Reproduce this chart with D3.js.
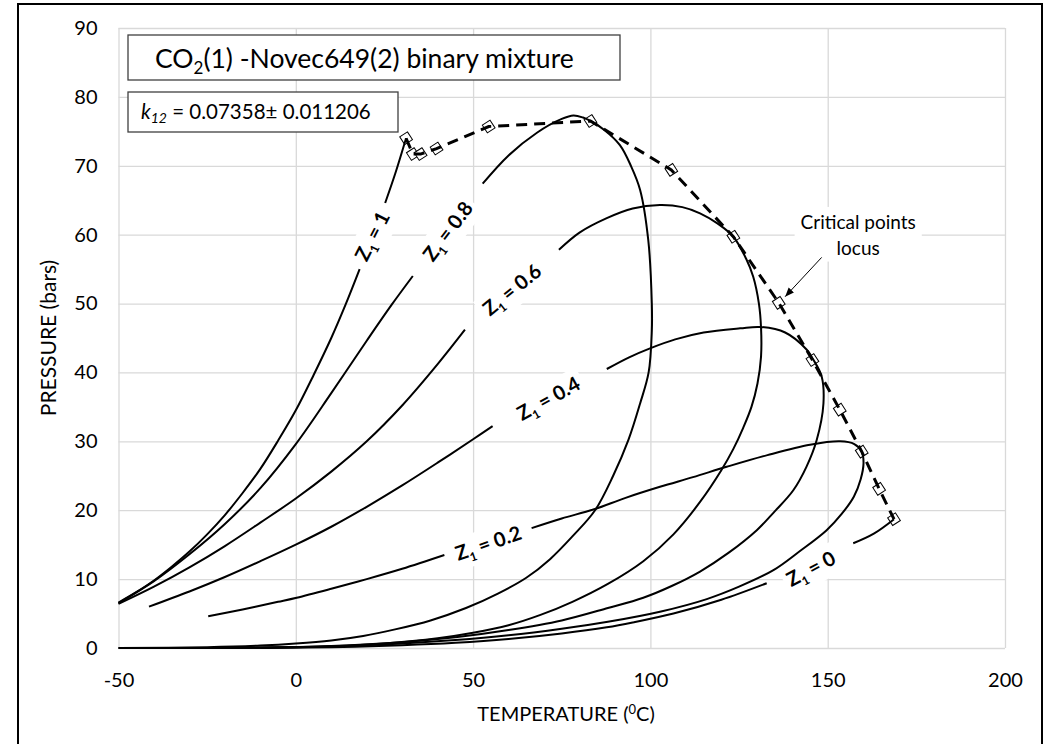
<!DOCTYPE html>
<html lang="en">
<head>
<meta charset="utf-8">
<title>CO2(1)-Novec649(2) phase envelopes</title>
<script src="https://d3js.org/d3.v7.min.js"></script>
<style>
  body { margin: 0; background: #fff; }
  svg text { font-family: Lato, "Open Sans", sans-serif; fill: #000; }
</style>
</head>
<body>
<script>
// ---- data: phase envelopes, T in degC, P in bar ----
// each composition is split where its inline label sits
var compositions = ["1", "0.8", "0.6", "0.4", "0.2", "0"];

var env10a = [[-50,6.6],[-45,8.1],[-40,9.8],[-35,11.8],[-30,14.0],[-25,16.5],[-20,19.3],[-15,22.5],[-10,26.0],[-5,30.1],[0,34.5],[5,39.6],[10,45.0],[14,49.8],[18,55.0]];
var env10b = [[25.2,64.6],[28,68.8],[31.1,74.0]];

var env08a = [[-50,6.5],[-40,9.7],[-30,13.6],[-20,18.0],[-10,23.2],[0,29.6],[10,37.0],[20,44.6],[27,49.8],[33,54.0]];
var env08b = [[52.7,67.4],[60,71.5],[68,74.8],[75,76.8],[78.3,77.3],[81,77.0],[83.1,76.5],[87,75.2],[91.4,73.0],[94.5,70.0],[97.1,66.5],[99.4,59.2],[100.4,50.0],[100.4,46.0],[99.5,40.0],[97.1,35.5],[93.8,30.2],[89.5,25.0],[84.4,20.0],[78,16.2],[71.7,12.9],[65,10.2],[57,7.9],[48,5.8],[38,4.0],[28,2.7],[19,1.75],[10,1.1],[0,0.65],[-10,0.35],[-25,0.12],[-50,0]];

var env06a = [[-50,6.4],[-40,8.9],[-30,11.7],[-20,14.8],[-10,18.2],[0,21.7],[10,25.6],[20,30.0],[30,35.2],[40,41.2],[47.7,46.2]];
var env06b = [[74.2,57.8],[80,60.3],[87.7,62.4],[95,63.8],[102.7,64.3],[109,64.0],[114,63.1],[119,61.6],[123.4,59.7],[127,56.5],[129,53.9],[130.6,50.0],[131.2,46.5],[131.2,42.3],[130.2,38.4],[128.5,35.0],[126.2,32.0],[123.4,28.9],[120,25.8],[114,21.2],[106.5,16.5],[98,12.6],[88,9.3],[78,6.7],[69,4.8],[60,3.3],[50,2.2],[40,1.4],[25,0.65],[10,0.25],[-10,0.05],[-30,0],[-50,0]];

var env04a = [[-41.4,6.0],[-30,8.2],[-20,10.3],[-10,12.6],[0,15.0],[10,17.6],[20,20.5],[30,23.6],[40,26.9],[50,30.3],[55.5,32.2]];
var env04b = [[87.7,40.5],[94,42.2],[99.9,43.5],[107,44.8],[115,45.8],[125.3,46.4],[131,46.6],[138,45.8],[144.1,43.3],[145.9,41.9],[148.3,39.4],[148.8,35.5],[146.9,30.2],[144,26.3],[140.3,22.9],[135,19.8],[130,17.1],[122,13.8],[114,11.1],[106,9.0],[98,7.3],[88,5.8],[75,4.0],[60,2.6],[45,1.55],[30,0.85],[10,0.3],[-10,0.06],[-41.4,0]];

var env02a = [[-24.7,4.6],[-15,5.6],[-5,6.7],[0.25,7.3],[10,8.6],[20,10.0],[30,11.5],[41.9,13.5]];
var env02b = [[66.5,17.4],[75,18.8],[83.9,20.1],[93,21.8],[102.7,23.4],[112,24.8],[121.5,26.3],[133,28.0],[145,29.5],[153.5,30.0],[157.5,29.6],[159.6,28.5],[160.1,26.8],[159.3,24.5],[157.4,22.0],[154,19.5],[149.7,17.1],[142,14.0],[134.7,11.3],[125,8.9],[115.9,7.1],[103,5.3],[88,3.8],[75,2.8],[60,1.85],[45,1.15],[30,0.65],[10,0.22],[-24.7,0]];

var env00a = [[168.7,18.7],[163,16.6],[157.2,15.2]];
var env00b = [[132.8,9.4],[120,7.0],[106.5,5.0],[95,3.7],[87.7,3.0],[75,2.1],[60,1.3],[45,0.75],[30,0.4],[10,0.12],[-10,0]];

var segments = [env10a, env10b, env08a, env08b, env06a, env06b, env04a, env04b, env02a, env02b, env00a, env00b];

// inline label centre (T, P) and text angle
var labelPos = [[21.6,59.8],[42.9,60.5],[61.0,52.0],[71.3,36.2],[54.3,15.2],[145.3,11.5]];
var labelAngle = [-63, -53, -39, -29, -19, -28];

// critical points locus
var critT = [31.1, 33.0, 35.2, 39.7, 54.4, 83.1, 105.9, 123.4, 136.2, 145.7, 153.4, 159.6, 164.5, 168.7];
var critP = [74.0, 71.7, 71.7, 72.5, 75.7, 76.5, 69.4, 59.7, 50.1, 41.8, 34.6, 28.5, 23.1, 18.7];

var xTicks = [-50, 0, 50, 100, 150, 200];
var yTicks = [0, 10, 20, 30, 40, 50, 60, 70, 80, 90];

// annotation arrow: from text to the locus
var arrowFrom = [148.3, 56.7];
var arrowTo = [138.0, 51.0];

// ---- drawing ----
var width = 1053, height = 744;
var plotL = 118.5, plotR = 1005, plotT = 28, plotB = 648;

var svg = d3.select("body").append("svg")
  .attr("width", width)
  .attr("height", height);

var x = d3.scaleLinear().domain([-50, 200]).range([plotL, plotR]);
var y = d3.scaleLinear().domain([0, 90]).range([plotB, plotT]);

// outer frame
svg.append("rect")
  .attr("x", 18).attr("y", 4)
  .attr("width", 1024).attr("height", 760)
  .attr("fill", "none").attr("stroke", "#000").attr("stroke-width", 2);

// axes + gridlines
var xAxis = svg.append("g")
  .attr("transform", "translate(0," + plotB + ")")
  .call(d3.axisBottom(x).tickValues(xTicks).tickFormat(function(d) { return String(d); })
    .tickSize(-(plotB - plotT)).tickPadding(25));
var yAxis = svg.append("g")
  .attr("transform", "translate(" + plotL + ",0)")
  .call(d3.axisLeft(y).tickValues(yTicks).tickFormat(function(d) { return String(d); })
    .tickSize(-(plotR - plotL)).tickPadding(21));

[xAxis, yAxis].forEach(function(a) {
  a.select(".domain").remove();
  a.selectAll(".tick line").attr("stroke", "#d9d9d9").attr("stroke-width", 1.3);
  a.selectAll(".tick text").style("font-size", "20px").style("font-family", "Lato, sans-serif");
});

// axis titles
var xt = svg.append("text")
  .attr("x", 566).attr("y", 721)
  .attr("text-anchor", "middle")
  .style("font-size", "20px");
xt.append("tspan").text("TEMPERATURE  (");
xt.append("tspan").attr("dy", -7).style("font-size", "13px").text("0");
xt.append("tspan").attr("dy", 7).text("C)");

svg.append("text")
  .attr("transform", "translate(56,338) rotate(-90)")
  .attr("text-anchor", "middle")
  .style("font-size", "21px")
  .text("PRESSURE (bars)");

// envelope curves
var line = d3.line()
  .x(function(d) { return x(d[0]); })
  .y(function(d) { return y(d[1]); })
  .curve(d3.curveCatmullRom.alpha(0.5));

// white-boxed inline labels
var labels = svg.append("g").selectAll("g")
  .data(compositions)
  .join("g")
  .attr("transform", function(d, i) {
    return "translate(" + x(labelPos[i][0]) + "," + y(labelPos[i][1]) + ") rotate(" + labelAngle[i] + ")";
  });

labels.each(function(d) {
  var g = d3.select(this);
  var t = g.append("text")
    .attr("text-anchor", "middle")
    .attr("y", 7)
    .style("font-size", "20px")
    .style("font-weight", 700);
  t.append("tspan").text("Z");
  t.append("tspan").attr("dy", 5).style("font-size", "12px").text("1");
  t.append("tspan").attr("dy", -5).text(" = " + d);
  var bb = t.node().getBBox();
  g.insert("rect", "text")
    .attr("x", bb.x - 4).attr("y", bb.y - 2)
    .attr("width", bb.width + 8).attr("height", bb.height + 4)
    .attr("fill", "#fff");
});

// critical point markers, locus line on top of them
var crit = critT.map(function(t, i) { return [t, critP[i]]; });

svg.append("g").selectAll("path")
  .data(crit)
  .join("path")
  .attr("transform", function(d) { return "translate(" + x(d[0]) + "," + y(d[1]) + ") rotate(12)"; })
  .attr("d", "M0,-6.5L6.5,0L0,6.5L-6.5,0Z")
  .attr("fill", "#fff")
  .attr("stroke", "#000")
  .attr("stroke-width", 1);

svg.append("path")
  .datum(crit)
  .attr("d", d3.line().x(function(d) { return x(d[0]); }).y(function(d) { return y(d[1]); }))
  .attr("fill", "none")
  .attr("stroke", "#000")
  .attr("stroke-width", 3)
  .attr("stroke-dasharray", "11,7");

svg.append("g").selectAll("path")
  .data(segments)
  .join("path")
  .attr("d", line)
  .attr("fill", "none")
  .attr("stroke", "#000")
  .attr("stroke-width", 2);

// "Critical points locus" note with arrow
svg.append("defs").append("marker")
  .attr("id", "head")
  .attr("viewBox", "0 0 10 10")
  .attr("refX", 10).attr("refY", 5)
  .attr("markerWidth", 9).attr("markerHeight", 9)
  .attr("orient", "auto")
  .append("path").attr("d", "M0,1L10,5L0,9Z").attr("fill", "#000");

var note = svg.append("g");
var noteText = note.append("text")
  .attr("x", x(158.6)).attr("y", y(61.8))
  .attr("text-anchor", "middle")
  .style("font-size", "19px");
noteText.append("tspan").attr("x", x(158.6)).attr("dy", "0.35em").text("Critical points");
noteText.append("tspan").attr("x", x(158.6)).attr("dy", "1.35em").text("locus");
var nb = noteText.node().getBBox();
note.insert("rect", "text")
  .attr("x", nb.x - 6).attr("y", nb.y - 3)
  .attr("width", nb.width + 12).attr("height", nb.height + 6)
  .attr("fill", "#fff");

svg.append("line")
  .attr("x1", x(arrowFrom[0])).attr("y1", y(arrowFrom[1]))
  .attr("x2", x(arrowTo[0])).attr("y2", y(arrowTo[1]))
  .attr("stroke", "#000")
  .attr("stroke-width", 1)
  .attr("marker-end", "url(#head)");

// title and k12 boxes
svg.append("rect")
  .attr("x", 128).attr("y", 35).attr("width", 492).attr("height", 45)
  .attr("fill", "#fff").attr("stroke", "#404040").attr("stroke-width", 1.3);
var title = svg.append("text")
  .attr("x", 155).attr("y", 68)
  .style("font-size", "26.5px");
title.append("tspan").text("CO");
title.append("tspan").attr("dy", 6).style("font-size", "17px").text("2");
title.append("tspan").attr("dy", -6).text("(1) -Novec649(2) binary mixture");

svg.append("rect")
  .attr("x", 128).attr("y", 92).attr("width", 270).attr("height", 40)
  .attr("fill", "#fff").attr("stroke", "#404040").attr("stroke-width", 1.3);
var kt = svg.append("text")
  .attr("x", 141).attr("y", 119)
  .style("font-size", "20.5px");
kt.append("tspan").style("font-style", "italic").text("k");
kt.append("tspan").attr("dy", 4).style("font-size", "14px").style("font-style", "italic").text("12");
kt.append("tspan").attr("dy", -4).text(" = 0.07358\u00B1 0.011206");
</script>
</body>
</html>
